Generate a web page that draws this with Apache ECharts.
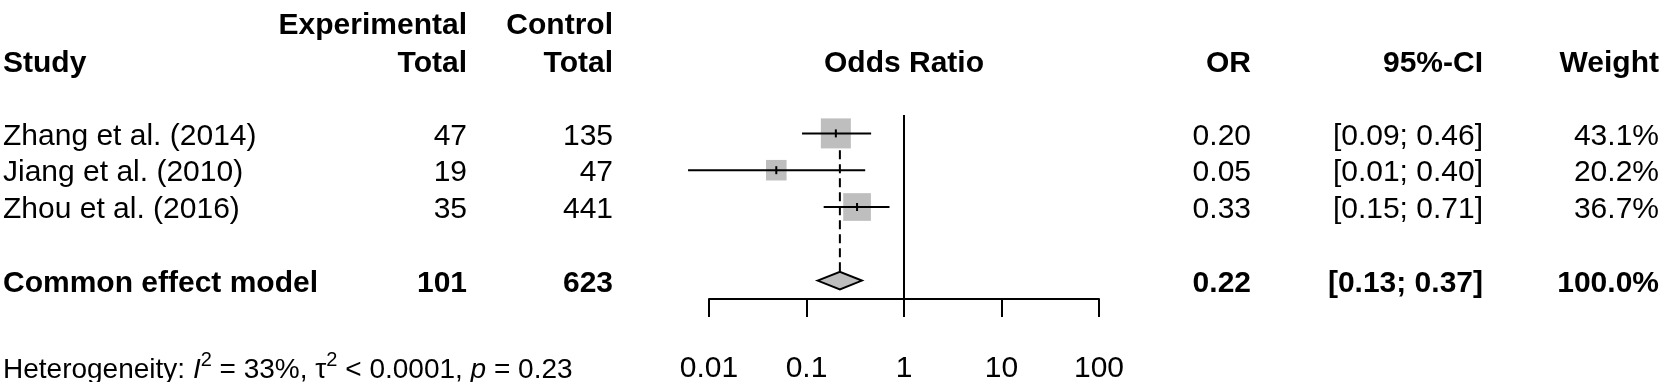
<!DOCTYPE html>
<html><head><meta charset="utf-8">
<script src="https://cdn.jsdelivr.net/npm/echarts@6/dist/echarts.min.js"></script>
<style>html,body{margin:0;padding:0;background:#fff}#c{width:1665px;height:382px}</style>
</head><body><div id="c"></div>
<script>
// ---- data ----
const studies = ['Zhang et al. (2014)', 'Jiang et al. (2010)', 'Zhou et al. (2016)'];
const expTotal = [47, 19, 35];
const ctrlTotal = [135, 47, 441];
const orEst = [0.20, 0.049, 0.33];
const ciLower = [0.09, 0.0061, 0.15];
const ciUpper = [0.46, 0.40, 0.71];
const weights = [43.1, 20.2, 36.7];
const pooledLabel = 'Common effect model';
const pooledExp = 101;
const pooledCtrl = 623;
const pooledOR = 0.22;
const pooledLower = 0.13;
const pooledUpper = 0.37;
const pooledWeight = 100.0;
const tickLabels = ['0.01', '0.1', '1', '10', '100'];
const headers = ['Study', 'Experimental', 'Control', 'Total', 'Odds Ratio', 'OR', '95%-CI', 'Weight'];
const hetI2 = '33%';
const hetTau2 = '< 0.0001';
const hetP = '0.23';

// ---- layout / style ----
const FONT = '"Liberation Sans", Arial, Helvetica, sans-serif';
const FS = 30;
const pooledRow = 4;
const chart = echarts.init(document.getElementById('c'), null, {renderer: 'canvas'});
const fmt2 = v => v.toFixed(2);
const ciText = (l, u) => '[' + fmt2(l) + '; ' + fmt2(u) + ']';

chart.setOption({
  animation: false,
  backgroundColor: '#fff',
  grid: {left: 709, right: 566, top: 115, bottom: 83, containLabel: false, outerBoundsMode: 'none'},
  xAxis: {
    type: 'log', logBase: 10, min: 0.01, max: 100, position: 'bottom',
    splitLine: {show: false},
    axisLine: {show: true, onZero: false, lineStyle: {color: '#000', width: 2}},
    axisTick: {show: true, inside: false, length: 18, lineStyle: {color: '#000', width: 2}},
    axisLabel: {
      color: '#000', fontFamily: FONT, fontSize: FS, margin: 55,
      formatter: (v, i) => tickLabels[i] !== undefined ? tickLabels[i] : ''
    }
  },
  yAxis: {type: 'value', min: -0.5, max: 4.5, inverse: true, show: false},
  series: [
    { // dashed line at pooled estimate
      type: 'custom', z: 1, clip: false,
      data: [[pooledOR, pooledRow]],
      renderItem(params, api) {
        const top = api.coord([api.value(0), -0.3]);
        const bot = api.coord([api.value(0), api.value(1)]);
        return {type: 'line', shape: {x1: top[0], y1: top[1], x2: bot[0], y2: bot[1] - 8.8},
          style: {stroke: '#000', lineWidth: 2, lineDash: [9, 5]}};
      }
    },
    { // studies: square, CI line, estimate tick
      type: 'custom', z: 3, clip: false,
      data: studies.map((s, i) => [orEst[i], i, ciLower[i], ciUpper[i], weights[i]]),
      encode: {x: 0, y: 1},
      renderItem(params, api) {
        const p = api.coord([api.value(0), api.value(1)]);
        const l = api.coord([api.value(2), api.value(1)]);
        const u = api.coord([api.value(3), api.value(1)]);
        const s = 4.57 * Math.sqrt(api.value(4));
        return {type: 'group', children: [
          {type: 'rect', shape: {x: p[0] - s / 2, y: p[1] - s / 2, width: s, height: s}, style: {fill: '#bebebe'}},
          {type: 'line', shape: {x1: l[0], y1: l[1], x2: u[0], y2: u[1]}, style: {stroke: '#000', lineWidth: 2}},
          {type: 'line', shape: {x1: p[0], y1: p[1] - 4, x2: p[0], y2: p[1] + 4}, style: {stroke: '#000', lineWidth: 2}}
        ]};
      }
    },
    { // pooled diamond + null line
      type: 'custom', z: 4, clip: false,
      data: [[pooledOR, pooledRow, pooledLower, pooledUpper]],
      encode: {x: 0, y: 1},
      renderItem(params, api) {
        const p = api.coord([api.value(0), api.value(1)]);
        const l = api.coord([api.value(2), api.value(1)]);
        const u = api.coord([api.value(3), api.value(1)]);
        const h = 8.8;
        return {type: 'polygon', shape: {points: [[l[0], p[1]], [p[0], p[1] - h], [u[0], p[1]], [p[0], p[1] + h]]},
          style: {fill: '#bebebe', stroke: '#000', lineWidth: 2}};
      },
      markLine: {
        silent: true, symbol: ['none', 'none'], label: {show: false},
        lineStyle: {color: '#000', width: 2, type: 'solid'},
        data: [{xAxis: 1}]
      }
    }
  ]
});

// ---- table text, aligned to the chart rows ----
const rowY = r => chart.convertToPixel({gridIndex: 0}, [1, r])[1];
const g = [];
function txt(text, x, y, align, bold) {
  g.push({type: 'text', x: x, y: y, silent: true,
    style: {text: text, fill: '#000', fontFamily: FONT, fontSize: FS, fontWeight: bold ? 'bold' : 'normal',
      align: align, textAlign: align, verticalAlign: 'middle', textVerticalAlign: 'middle'}});
}
const X = {study: 3, exp: 467, ctrl: 613, plot: 904, or: 1251, ci: 1483, w: 1659};
const H1 = 25.6, H2 = 63.5;
txt(headers[0], X.study, H2, 'left', true);
txt(headers[1], X.exp, H1, 'right', true);
txt(headers[3], X.exp, H2, 'right', true);
txt(headers[2], X.ctrl, H1, 'right', true);
txt(headers[3], X.ctrl, H2, 'right', true);
txt(headers[4], X.plot, H2, 'center', true);
txt(headers[5], X.or, H2, 'right', true);
txt(headers[6], X.ci, H2, 'right', true);
txt(headers[7], X.w, H2, 'right', true);
studies.forEach((s, i) => {
  const y = rowY(i) + 3;
  txt(s, X.study, y, 'left', false);
  txt(String(expTotal[i]), X.exp, y, 'right', false);
  txt(String(ctrlTotal[i]), X.ctrl, y, 'right', false);
  txt(fmt2(orEst[i]), X.or, y, 'right', false);
  txt(ciText(ciLower[i], ciUpper[i]), X.ci, y, 'right', false);
  txt(weights[i].toFixed(1) + '%', X.w, y, 'right', false);
});
const py = rowY(pooledRow) + 3;
txt(pooledLabel, X.study, py, 'left', true);
txt(String(pooledExp), X.exp, py, 'right', true);
txt(String(pooledCtrl), X.ctrl, py, 'right', true);
txt(fmt2(pooledOR), X.or, py, 'right', true);
txt(ciText(pooledLower, pooledUpper), X.ci, py, 'right', true);
txt(pooledWeight.toFixed(1) + '%', X.w, py, 'right', true);

const HFS = 28;
const base = {fontFamily: FONT, fontSize: HFS, fill: '#000', lineHeight: 40, verticalAlign: 'middle'};
g.push({type: 'text', x: 3, y: 370.5, silent: true,
  style: {
    text: '{n|Heterogeneity: }{i|I}{s|2}{n| = ' + hetI2 + ', τ}{s|2}{n| ' + hetTau2 + ', }{i|p}{n| = ' + hetP + '}',
    align: 'left', textAlign: 'left', verticalAlign: 'middle', textVerticalAlign: 'middle',
    fontFamily: FONT, fontSize: HFS, fill: '#000',
    rich: {
      n: Object.assign({}, base),
      i: Object.assign({}, base, {fontStyle: 'italic'}),
      s: {fontFamily: FONT, fontSize: 20, fill: '#000', lineHeight: 20, verticalAlign: 'top'}
    }
  }});
chart.setOption({graphic: {elements: g}});
</script>
</body></html>
